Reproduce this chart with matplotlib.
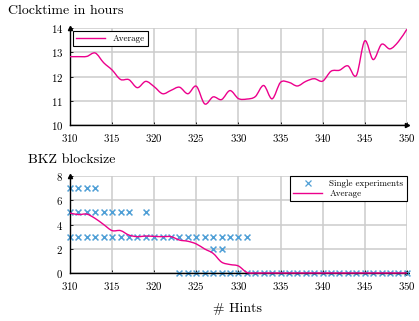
import matplotlib
matplotlib.use("Agg")
import matplotlib.pyplot as plt
from matplotlib.path import Path
from matplotlib.patches import PathPatch
from matplotlib.lines import Line2D
import numpy as np

plt.rcParams['font.family'] = ['cmr10', 'DejaVu Serif']
plt.rcParams['axes.formatter.use_mathtext'] = True
plt.rcParams['mathtext.fontset'] = 'cm'

# Hints range shared by both panels
hints = list(range(310, 351))

# Average clocktime (hours) per number of hints
clocktime_avg = [12.82, 12.82, 12.83, 12.97, 12.57, 12.27, 11.88, 11.87, 11.54, 11.80,
                 11.58, 11.29, 11.43, 11.56, 11.29, 11.60, 10.87, 11.16, 11.05, 11.42,
                 11.09, 11.07, 11.17, 11.63, 11.08, 11.76, 11.76, 11.61, 11.80, 11.91,
                 11.81, 12.22, 12.26, 12.44, 12.04, 13.47, 12.70, 13.33, 13.14, 13.44,
                 13.95]

# Average BKZ blocksize per number of hints
bkz_avg = [4.95, 4.82, 4.86, 4.50, 4.00, 3.50, 3.50, 3.13, 3.00, 3.05,
           3.02, 3.00, 3.00, 2.72, 2.62, 2.40, 1.98, 1.62, 0.90, 0.70,
           0.58, 0.05, 0.0, 0.0, 0.0, 0.0, 0.0, 0.0, 0.0, 0.0,
           0.0, 0.0, 0.0, 0.0, 0.0, 0.0, 0.0, 0.0, 0.0, 0.0,
           0.0]

# Distinct blocksizes observed in single experiments
single_hints_7 = [310, 311, 312, 313]
single_hints_5 = [310, 311, 312, 313, 314, 315, 316, 317, 319]
single_hints_3 = list(range(310, 332))
single_hints_2 = [327, 328]
single_hints_0 = list(range(323, 351))

PINK = '#ec008c'
BLUE = '#4f9fd6'
GRID = '#cccccc'


def smooth_path(xs, ys):
    pts = np.column_stack([xs, ys]).astype(float)
    n = len(pts)
    verts = [pts[0]]
    codes = [Path.MOVETO]
    for i in range(n - 1):
        p0 = pts[i - 1] if i > 0 else pts[i]
        p1 = pts[i]
        p2 = pts[i + 1]
        p3 = pts[i + 2] if i + 2 < n else pts[i + 1]
        c1 = p1 + (p2 - p0) / 6.0
        c2 = p2 - (p3 - p1) / 6.0
        verts += [c1, c2, p2]
        codes += [Path.CURVE4] * 3
    return Path(verts, codes)


def style_axes(ax, ymin, ymax, ystep):
    ax.set_xlim(310, 350)
    ax.set_ylim(ymin, ymax)
    ax.set_xticks(range(310, 351, 5))
    ax.set_yticks(np.arange(ymin, ymax + 0.001, ystep))
    ax.grid(True, color=GRID, linewidth=1.1)
    ax.set_axisbelow(True)
    for s in ['top', 'right']:
        ax.spines[s].set_visible(False)
    for s in ['left', 'bottom']:
        ax.spines[s].set_linewidth(1.0)
        ax.spines[s].set_color('black')
    ax.tick_params(direction='in', length=2.5, width=0.6, labelsize=7.8, pad=5,
                   colors='black')
    ax.plot(1, 0, '>k', markersize=3, transform=ax.transAxes, clip_on=False)
    ax.plot(0, 1, '^k', markersize=3, transform=ax.transAxes, clip_on=False)


fig = plt.figure(figsize=(4.19, 3.21), dpi=100)

# Clocktime panel
ax1 = fig.add_axes([0.167, 0.6106, 0.804, 0.302])
style_axes(ax1, 10, 14, 1)
ax1.add_patch(PathPatch(smooth_path(hints, clocktime_avg), facecolor='none',
                        edgecolor=PINK, linewidth=1.0, zorder=3))
leg1 = ax1.legend(handles=[Line2D([], [], color=PINK, linewidth=1.0, label='Average')],
                  loc='upper left', fontsize=6.5, frameon=True, fancybox=False,
                  edgecolor='black', framealpha=1, borderaxespad=0.3,
                  handlelength=3.2, borderpad=0.4)
leg1.get_frame().set_linewidth(0.8)
fig.text(0.018, 0.965, 'Clocktime in hours', fontsize=10, ha='left', va='center')

# BKZ blocksize panel
ax2 = fig.add_axes([0.167, 0.1495, 0.804, 0.302])
style_axes(ax2, 0, 8, 2)
mk = dict(marker='x', color=BLUE, s=18, linewidths=1.1, zorder=2, clip_on=False)
ax2.scatter(single_hints_7, [7] * len(single_hints_7), **mk)
ax2.scatter(single_hints_5, [5] * len(single_hints_5), **mk)
ax2.scatter(single_hints_3, [3] * len(single_hints_3), **mk)
ax2.scatter(single_hints_2, [2] * len(single_hints_2), **mk)
ax2.scatter(single_hints_0, [0] * len(single_hints_0), **mk)
ax2.add_patch(PathPatch(smooth_path(hints, bkz_avg), facecolor='none',
                        edgecolor=PINK, linewidth=1.0, zorder=3, clip_on=False))
leg2 = ax2.legend(handles=[Line2D([], [], color=BLUE, marker='x', linestyle='none',
                                  markersize=4, markeredgewidth=0.9,
                                  label='Single experiments'),
                           Line2D([], [], color=PINK, linewidth=1.0, label='Average')],
                  loc='upper right', fontsize=6.5, frameon=True, fancybox=False,
                  edgecolor='black', framealpha=1, borderaxespad=0.0,
                  handlelength=3.2, borderpad=0.4, labelspacing=0.15)
leg2.get_frame().set_linewidth(0.8)
fig.text(0.067, 0.503, 'BKZ blocksize', fontsize=10, ha='left', va='center')

fig.text(0.568, 0.038, '# Hints', fontsize=10, ha='center', va='center')

fig.savefig('out.png', dpi=100)
